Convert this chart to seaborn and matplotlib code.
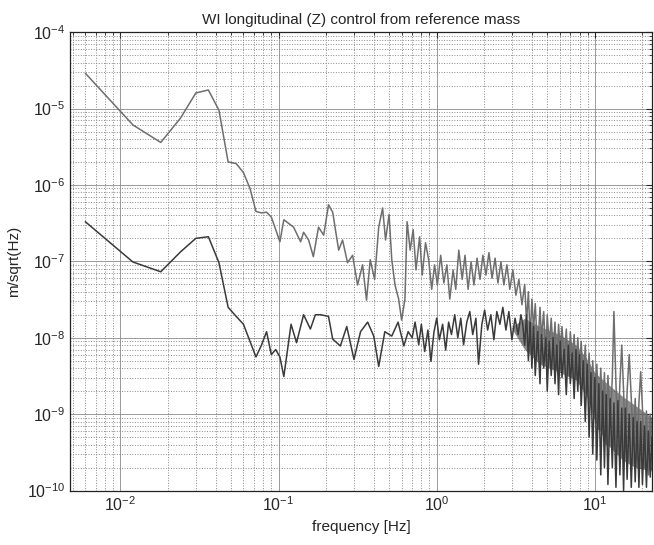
import numpy as np
import pandas as pd
import matplotlib
matplotlib.use("Agg")
import matplotlib.pyplot as plt
import matplotlib.ticker as mticker
import seaborn as sns

# ==========================================
# Data (Hz, m/sqrt(Hz))
# ==========================================

upper_freq = [0.006, 0.012, 0.018, 0.024, 0.030, 0.036, 0.042, 0.048, 0.054, 0.060,
              0.066, 0.072, 0.078, 0.084, 0.090, 0.096, 0.102, 0.108, 0.1245, 0.138,
              0.144, 0.155, 0.166, 0.179, 0.193, 0.207, 0.22, 0.24, 0.254, 0.273,
              0.294, 0.316, 0.34, 0.36, 0.38, 0.405, 0.43, 0.455, 0.475, 0.50,
              0.52, 0.545, 0.575, 0.60, 0.63, 0.65, 0.68, 0.71, 0.74, 0.78,
              0.81, 0.85, 0.89, 0.93, 0.97, 1.01, 1.06, 1.11, 1.16, 1.21,
              1.27, 1.32, 1.38, 1.45, 1.51, 1.58, 1.65, 1.72, 1.80, 1.88,
              1.96, 2.05, 2.14, 2.24, 2.34, 2.44, 2.55, 2.66, 2.78, 2.90,
              3.03, 3.17, 3.31, 3.46]
upper_vals = [2.9e-5, 6.1e-6, 3.6e-6, 7.5e-6, 1.6e-5, 1.75e-5, 9.5e-6, 2.0e-6, 1.9e-6, 1.45e-6,
              9.0e-7, 4.5e-7, 4.3e-7, 4.4e-7, 3.8e-7, 2.6e-7, 1.8e-7, 3.5e-7, 2.8e-7, 1.8e-7,
              2.4e-7, 1.9e-7, 1.15e-7, 2.8e-7, 2.2e-7, 5.5e-7, 4.4e-7, 1.4e-7, 1.9e-7, 9.6e-8,
              1.2e-7, 4.9e-8, 9.0e-8, 3.1e-8, 1.05e-7, 5.8e-8, 2.8e-7, 5.0e-7, 1.9e-7, 4.1e-7,
              1.05e-7, 4.9e-8, 3.2e-8, 1.7e-8, 3.2e-8, 3.3e-7, 1.4e-7, 2.6e-7, 7.7e-8, 2.1e-7,
              6.6e-8, 1.75e-7, 1.05e-7, 4.3e-8, 9.0e-8, 4.9e-8, 1.2e-7, 5.2e-8, 9.0e-8, 3.2e-8,
              7.7e-8, 4.3e-8, 1.4e-7, 5.8e-8, 1.2e-7, 4.3e-8, 9.8e-8, 4.9e-8, 1.1e-7, 5.8e-8,
              1.2e-7, 6.6e-8, 1.3e-7, 6.0e-8, 1.1e-7, 5.2e-8, 9.8e-8, 4.9e-8, 9.0e-8, 4.3e-8,
              7.7e-8, 3.6e-8, 5.8e-8, 2.7e-8]

lower_freq = [0.006, 0.012, 0.018, 0.024, 0.030, 0.036, 0.042, 0.048, 0.054, 0.060,
              0.066, 0.072, 0.078, 0.084, 0.090, 0.096, 0.102, 0.108, 0.12, 0.13,
              0.144, 0.159, 0.171, 0.184, 0.207, 0.22, 0.246, 0.27, 0.30, 0.33,
              0.366, 0.40, 0.43, 0.47, 0.52, 0.57, 0.62, 0.66, 0.70, 0.73,
              0.77, 0.80, 0.84, 0.88, 0.92, 0.96, 1.0, 1.04, 1.09, 1.14,
              1.19, 1.24, 1.30, 1.36, 1.42, 1.48, 1.55, 1.62, 1.69, 1.77,
              1.84, 1.93, 2.01, 2.10, 2.20, 2.30, 2.40, 2.51, 2.62, 2.74,
              2.86, 2.99, 3.13, 3.27, 3.41, 3.50]
lower_vals = [3.3e-7, 9.8e-8, 7.3e-8, 1.33e-7, 2.0e-7, 2.1e-7, 9.6e-8, 2.5e-8, 1.9e-8, 1.5e-8,
              9.0e-9, 5.6e-9, 8.0e-9, 1.2e-8, 6.0e-9, 7.0e-9, 5.6e-9, 3.1e-9, 1.5e-8, 8.6e-9,
              2.0e-8, 1.3e-8, 2.0e-8, 2.0e-8, 1.9e-8, 9.6e-9, 7.8e-9, 1.4e-8, 5.2e-9, 1.2e-8,
              1.6e-8, 1.05e-8, 4.2e-9, 1.2e-8, 1.05e-8, 1.6e-8, 7.8e-9, 1.2e-8, 1.0e-8, 1.6e-8,
              8.1e-9, 1.5e-8, 6.6e-9, 1.26e-8, 4.9e-9, 1.17e-8, 1.8e-8, 9.4e-9, 1.5e-8, 6.9e-9,
              1.6e-8, 1.1e-8, 2.0e-8, 1.0e-8, 1.8e-8, 8.1e-9, 1.6e-8, 2.2e-8, 1.1e-8, 1.8e-8,
              4.5e-9, 1.5e-8, 2.3e-8, 1.26e-8, 2.0e-8, 9.4e-9, 2.2e-8, 1.5e-8, 2.5e-8, 1.26e-8,
              2.2e-8, 9.4e-9, 1.8e-8, 1.1e-8, 2.0e-8, 1.5e-8]

# high frequency part, where both curves merge into one band
hf_freq = [3.6, 3.7, 3.8, 3.9, 4.0, 4.1, 4.2, 4.35, 4.5, 4.6,
           4.75, 4.9, 5.0, 5.15, 5.3, 5.45, 5.6, 5.75, 5.9, 6.05,
           6.2, 6.4, 6.6, 6.8, 7.0, 7.2, 7.4, 7.6, 7.8, 8.0,
           8.2, 8.45, 8.7, 8.95, 9.2, 9.45, 9.7, 10.0, 10.3, 10.6,
           10.9, 11.2, 11.5, 11.8, 12.1, 12.5, 12.9, 13.2, 13.6, 14.0,
           14.4, 14.8, 15.2, 15.6, 16.0, 16.5, 17.0, 17.5, 18.0, 18.5,
           19.0, 19.5, 20.0, 20.6, 21.2, 21.8, 22.4, 23.0]
hf_upper = [5.0e-8, 1.6e-8, 4.0e-8, 1.0e-8, 3.2e-8, 1.3e-8, 2.8e-8, 6.3e-9, 2.5e-8, 1.0e-8,
            2.2e-8, 5.0e-9, 2.0e-8, 8.0e-9, 1.8e-8, 6.3e-9, 1.6e-8, 4.0e-9, 1.5e-8, 6.3e-9,
            1.4e-8, 5.0e-9, 1.3e-8, 3.2e-9, 1.2e-8, 5.0e-9, 1.1e-8, 3.2e-9, 1.0e-8, 4.0e-9,
            9.0e-9, 2.5e-9, 8.0e-9, 2.0e-9, 6.3e-9, 1.6e-9, 5.0e-9, 1.0e-9, 4.5e-9, 6.3e-10,
            4.0e-9, 1.0e-9, 3.5e-9, 4.0e-10, 3.2e-9, 8.0e-10, 3.0e-9, 2.2e-8, 2.5e-9, 5.0e-10,
            2.5e-9, 8.0e-9, 2.0e-9, 3.2e-10, 2.0e-9, 6.0e-9, 1.6e-9, 4.0e-10, 1.6e-9, 2.5e-10,
            1.4e-9, 3.6e-9, 1.2e-9, 2.0e-10, 1.1e-9, 1.6e-10, 1.0e-9, 3.0e-10]
hf_lower = [8.0e-9, 2.0e-8, 5.0e-9, 1.6e-8, 4.0e-9, 1.4e-8, 3.2e-9, 1.2e-8, 2.5e-9, 1.1e-8,
            4.0e-9, 1.0e-8, 2.0e-9, 9.0e-9, 3.2e-9, 1.0e-8, 2.5e-9, 8.0e-9, 1.8e-9, 9.0e-9,
            3.0e-9, 7.0e-9, 1.8e-9, 8.0e-9, 2.5e-9, 6.3e-9, 1.6e-9, 7.0e-9, 2.0e-9, 6.0e-9,
            1.3e-9, 5.0e-9, 8.0e-10, 4.5e-9, 5.0e-10, 3.5e-9, 3.0e-10, 3.0e-9, 2.5e-10, 2.5e-9,
            1.6e-10, 2.0e-9, 2.0e-10, 1.8e-9, 1.2e-10, 1.6e-9, 2.0e-10, 1.4e-9, 1.1e-10, 1.5e-9,
            1.6e-10, 1.2e-9, 1.0e-10, 1.2e-9, 1.4e-10, 1.0e-9, 1.1e-10, 9.0e-10, 1.3e-10, 8.0e-10,
            1.1e-10, 8.0e-10, 1.2e-10, 7.0e-10, 1.1e-10, 6.0e-10, 1.5e-10, 5.0e-10]

# dark core of the merged band (the original trace is too dense to see single points)
core_freq = [3.0, 3.6, 4.5, 6.0, 7.6, 8.8, 10.0, 12.0, 15.0, 18.0, 23.0]
core_top = [1.4e-8, 1.8e-8, 1.4e-8, 1.1e-8, 8.0e-9, 5.5e-9, 3.5e-9, 2.5e-9, 1.7e-9, 1.3e-9, 9.0e-10]
core_bottom = [1.3e-8, 7.0e-9, 4.5e-9, 3.5e-9, 2.8e-9, 1.8e-9, 8.0e-10, 4.0e-10, 2.5e-10, 2.0e-10, 1.8e-10]

upper = pd.DataFrame({"freq": upper_freq + hf_freq, "asd": upper_vals + hf_upper})
lower = pd.DataFrame({"freq": lower_freq + hf_freq, "asd": lower_vals + hf_lower})

# ==========================================
# Plot
# ==========================================

sns.set_style("white")
plt.rcParams["font.family"] = ["Liberation Sans", "DejaVu Sans"]
plt.rcParams["mathtext.fontset"] = "custom"
plt.rcParams["mathtext.rm"] = "Liberation Sans"
plt.rcParams["mathtext.it"] = "Liberation Sans:italic"

fig = plt.figure(figsize=(6.54, 5.45), dpi=100)
ax = fig.add_axes([0.107, 0.100, 0.890, 0.841])

ax.fill_between(core_freq, core_bottom, core_top, color="#3a3a3a", alpha=0.6,
                linewidth=0)
sns.lineplot(data=upper, x="freq", y="asd", sort=False, estimator=None,
             color="#6e6e6e", linewidth=1.1, ax=ax)
sns.lineplot(data=lower, x="freq", y="asd", sort=False, estimator=None,
             color="#3a3a3a", linewidth=1.1, ax=ax)

ax.set_xscale("log")
ax.set_yscale("log")
ax.set_xlim(0.0048, 23)
ax.set_ylim(1e-10, 1e-4)

ax.set_xticks([1e-2, 1e-1, 1e0, 1e1])
ax.set_yticks([1e-10, 1e-9, 1e-8, 1e-7, 1e-6, 1e-5, 1e-4])
ax.xaxis.set_major_formatter(mticker.LogFormatterMathtext())
ax.yaxis.set_major_formatter(mticker.LogFormatterMathtext())
ax.xaxis.set_minor_locator(mticker.LogLocator(base=10, subs=np.arange(2, 10), numticks=20))
ax.yaxis.set_minor_locator(mticker.LogLocator(base=10, subs=np.arange(2, 10), numticks=20))
ax.xaxis.set_minor_formatter(mticker.NullFormatter())
ax.yaxis.set_minor_formatter(mticker.NullFormatter())

ax.grid(True, which="major", color="#8a8a8a", linestyle="-", linewidth=0.6)
ax.grid(True, which="minor", color="#8a8a8a", linestyle=":", linewidth=0.7)
ax.set_axisbelow(True)

ax.tick_params(which="both", direction="in", top=True, right=True, labelsize=11.5)
ax.tick_params(which="major", length=4)
ax.tick_params(which="minor", length=2)
for side in ax.spines.values():
    side.set_color("#222222")
    side.set_linewidth(0.9)

ax.set_title("WI longitudinal (Z) control from reference mass", fontsize=11, pad=6)
ax.set_xlabel("frequency [Hz]", fontsize=11)
ax.set_ylabel("m/sqrt(Hz)", fontsize=11)

fig.savefig("out.png", dpi=100)
plt.close(fig)
